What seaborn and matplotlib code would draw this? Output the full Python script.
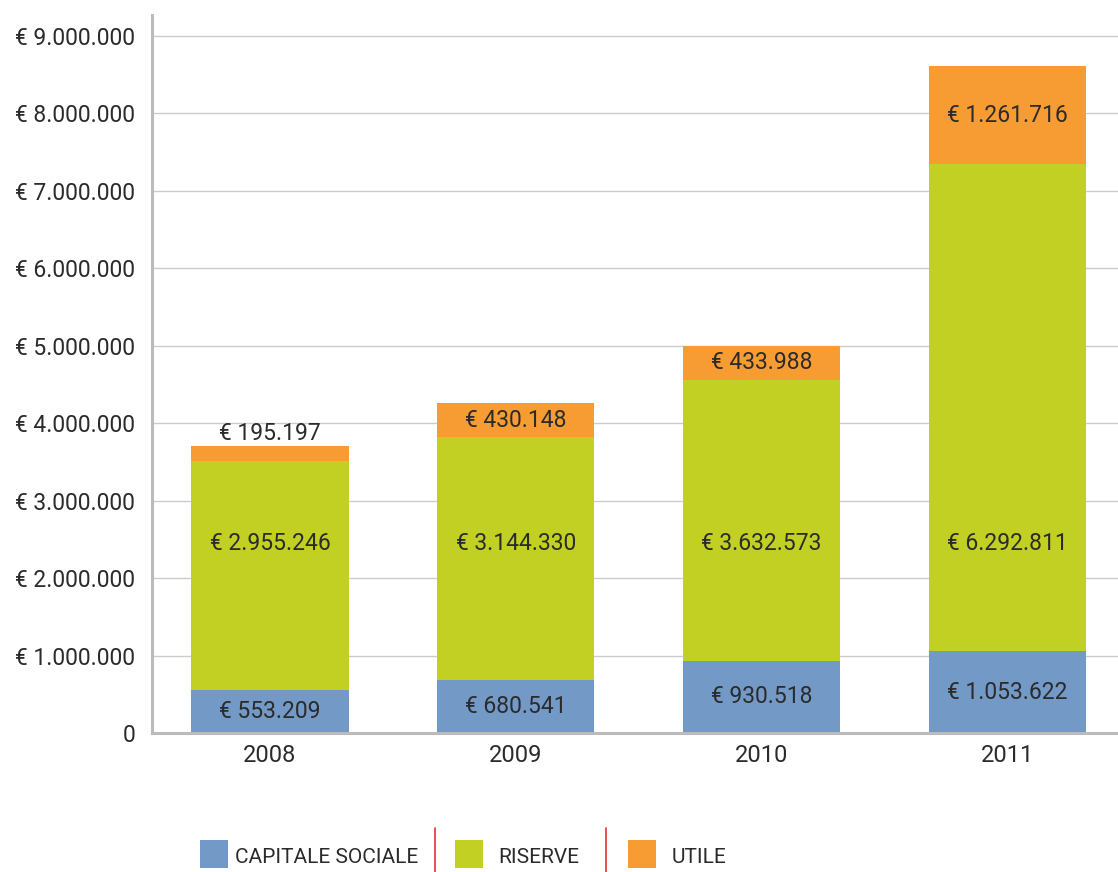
import matplotlib
matplotlib.use("Agg")
import matplotlib.pyplot as plt
from matplotlib.patches import Rectangle
from matplotlib.lines import Line2D
import numpy as np
import pandas as pd
import seaborn as sns

YEARS = ["2008", "2009", "2010", "2011"]
CAPITALE = [553209, 680541, 930518, 1053622]
RISERVE = [2955246, 3144330, 3632573, 6292811]
UTILE = [195197, 430148, 433988, 1261716]

SERIES = ["CAPITALE SOCIALE", "RISERVE", "UTILE"]
COLORS = ["#7399C6", "#C1D022", "#F79C33"]
TEXT = "#2b2b2b"

Y_TICKS = [0, 1000000, 2000000, 3000000, 4000000, 5000000, 6000000, 7000000, 8000000, 9000000]
RISERVE_LABEL_Y = 2450000  # the reserve labels sit on one common line


def euro(v):
    return "€ " + f"{v:,}".replace(",", ".")


sns.set_style("white")
plt.rcParams["font.family"] = ["Roboto", "DejaVu Sans"]

df = pd.DataFrame({"year": YEARS, SERIES[0]: CAPITALE, SERIES[1]: RISERVE, SERIES[2]: UTILE})

fig = plt.figure(figsize=(11.18, 8.72), dpi=100)
ax = fig.add_axes([152 / 1118, 139 / 872, 1 - 152 / 1118, 718 / 872])

bottom = np.zeros(len(YEARS))
for name, color in zip(SERIES, COLORS):
    vals = df[name].to_numpy(dtype=float)
    sns.barplot(data=df, x="year", y=name, color=color, width=0.64,
                bottom=bottom, saturation=1, ax=ax, linewidth=0)
    for i, v in enumerate(vals):
        if name == "RISERVE":
            y, va = RISERVE_LABEL_Y, "center"
        elif v < 300000:
            y, va = bottom[i] + v + 20000, "bottom"
        else:
            y, va = bottom[i] + v / 2, "center"
        ax.text(i, y, euro(int(v)), ha="center", va=va, fontsize=16.5, color=TEXT)
    bottom = bottom + vals

ax.set_xlim(-0.48, 3.45)
ax.set_ylim(0, 9270000)
ax.set_yticks(Y_TICKS)
ax.set_yticklabels(["0"] + [euro(t) for t in Y_TICKS[1:]])
ax.yaxis.grid(True, color="#cccccc", lw=1)
ax.set_axisbelow(True)
ax.set_xlabel("")
ax.set_ylabel("")
ax.tick_params(axis="y", length=0, pad=12, labelsize=16.5, labelcolor=TEXT)
ax.tick_params(axis="x", length=0, pad=8, labelsize=17, labelcolor=TEXT)
for side in ["top", "right"]:
    ax.spines[side].set_visible(False)
for side in ["left", "bottom"]:
    ax.spines[side].set_color("#bbbbbb")
    ax.spines[side].set_linewidth(2.2)

# legend row with red separators
W, H = 1118, 872
leg = [(200, 235), (455, 498), (628, 672)]
for (sx, tx), name, color in zip(leg, SERIES, COLORS):
    fig.add_artist(Rectangle((sx / W, (H - 868) / H), 28 / W, 28 / H,
                             transform=fig.transFigure, color=color, lw=0))
    fig.text(tx / W, (H - 867) / H, name, fontsize=15, color=TEXT, va="bottom")
for lx in [435, 606]:
    fig.add_artist(Line2D([lx / W, lx / W], [0, (H - 828) / H],
                          transform=fig.transFigure, color="#e53030", lw=1.2))

fig.savefig("out.png", dpi=100)
